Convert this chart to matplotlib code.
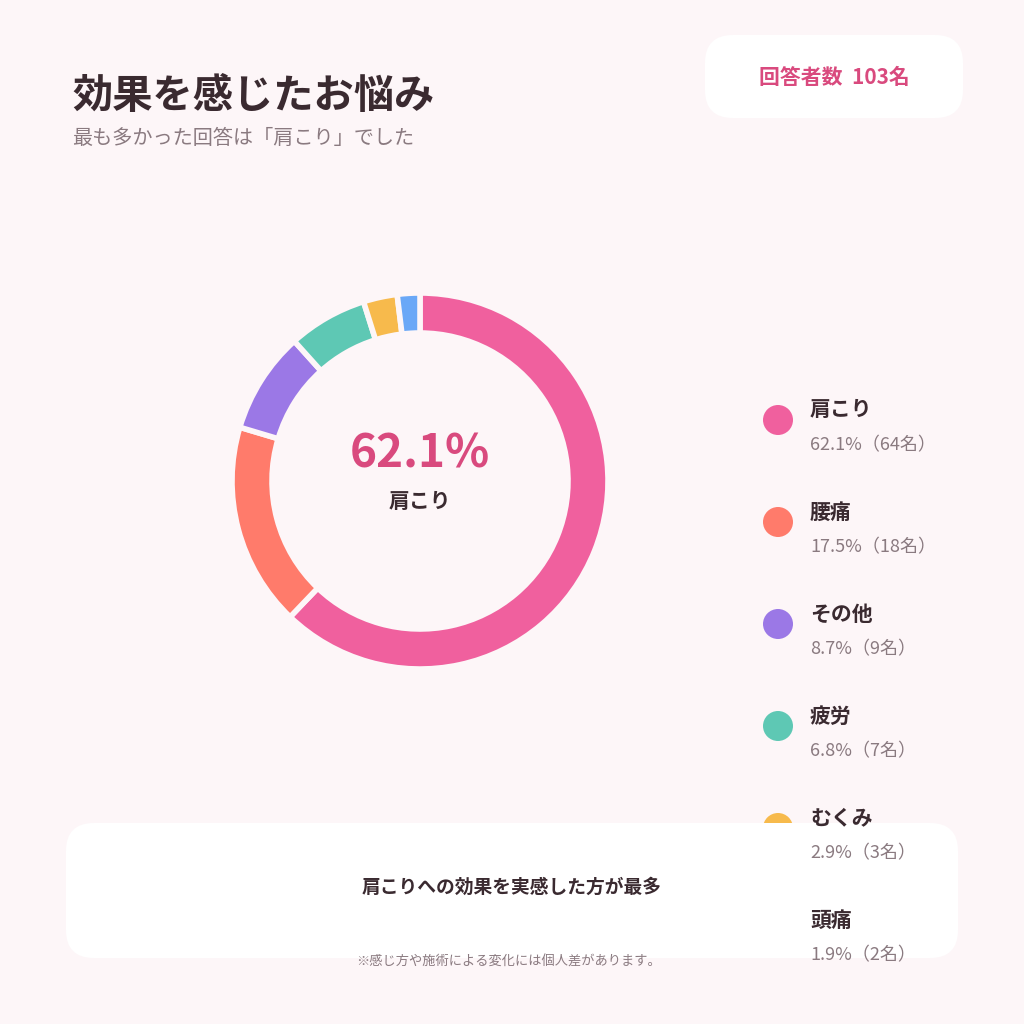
import matplotlib
matplotlib.use("Agg")
import matplotlib.pyplot as plt
from matplotlib.patches import FancyBboxPatch, Circle

plt.rcParams['font.family'] = ['Noto Sans CJK JP', 'DejaVu Sans']

BG = "#FDF6F8"
DARK = "#3A2A30"
GRAY = "#8A7A80"
ACCENT = "#D94A7E"

labels = ["肩こり", "腰痛", "その他", "疲労", "むくみ", "頭痛"]
percents = [62.1, 17.5, 8.7, 6.8, 2.9, 1.9]
counts = [64, 18, 9, 7, 3, 2]
colors = ["#F0609E", "#FF7B6B", "#9B78E6", "#5EC8B4", "#F7BA4C", "#6AA8F7"]
total = 103

fig = plt.figure(figsize=(10.24, 10.24), dpi=100, facecolor=BG)
ax = fig.add_axes([0, 0, 1, 1])
ax.set_xlim(0, 1024)
ax.set_ylim(1024, 0)
ax.axis("off")

# title
ax.text(72, 97, "効果を感じたお悩み", fontsize=29, fontweight="bold", color=DARK, va="center")
ax.text(72, 139, "最も多かった回答は「肩こり」でした", fontsize=14.5, color=GRAY, va="center")

# badge
ax.add_patch(FancyBboxPatch((705, 35), 258, 83, boxstyle="round,pad=0,rounding_size=28",
                            fc="white", ec="none"))
ax.text(834, 77, f"回答者数  {total}名", fontsize=15, fontweight="bold", color=ACCENT,
        ha="center", va="center")

# donut
cx, cy, r = 420, 481, 235
pax = fig.add_axes([(cx - r) / 1024, (1024 - cy - r) / 1024, 2 * r / 1024, 2 * r / 1024])
pax.pie(counts, colors=colors, startangle=90, counterclock=False, radius=1,
        wedgeprops=dict(width=50 / 235, edgecolor=BG, linewidth=4))
pax.set_aspect("equal")
pax.axis("off")
ax.text(cx, 455, f"{percents[0]}%", fontsize=33, fontweight="bold", color=ACCENT,
        ha="center", va="center")
ax.text(cx, 502, labels[0], fontsize=15, fontweight="bold", color=DARK, ha="center", va="center")

# legend circles (below bottom box)
y0, dy = 410, 102
for i, c in enumerate(colors):
    ax.add_patch(Circle((778, y0 + i * dy + 10), 15, fc=c, ec="none", zorder=1))

# bottom box
ax.add_patch(FancyBboxPatch((66, 823), 892, 135, boxstyle="round,pad=0,rounding_size=28",
                            fc="white", ec="none", zorder=2))
ax.text(512, 887, "肩こりへの効果を実感した方が最多", fontsize=13.5, fontweight="bold",
        color=DARK, ha="center", va="center", zorder=3)
ax.text(508, 962, "※感じ方や施術による変化には個人差があります。", fontsize=9.5,
        color=GRAY, ha="center", va="center", zorder=3)

# legend text
for i, (lab, p, n) in enumerate(zip(labels, percents, counts)):
    y = y0 + i * dy
    ax.text(810, y, lab, fontsize=15, fontweight="bold", color=DARK, va="center", zorder=3)
    ax.text(810, y + 35, f"{p}%（{n}名）", fontsize=13, color=GRAY, va="center", zorder=3)

fig.savefig("out.png", dpi=100, facecolor=BG)
